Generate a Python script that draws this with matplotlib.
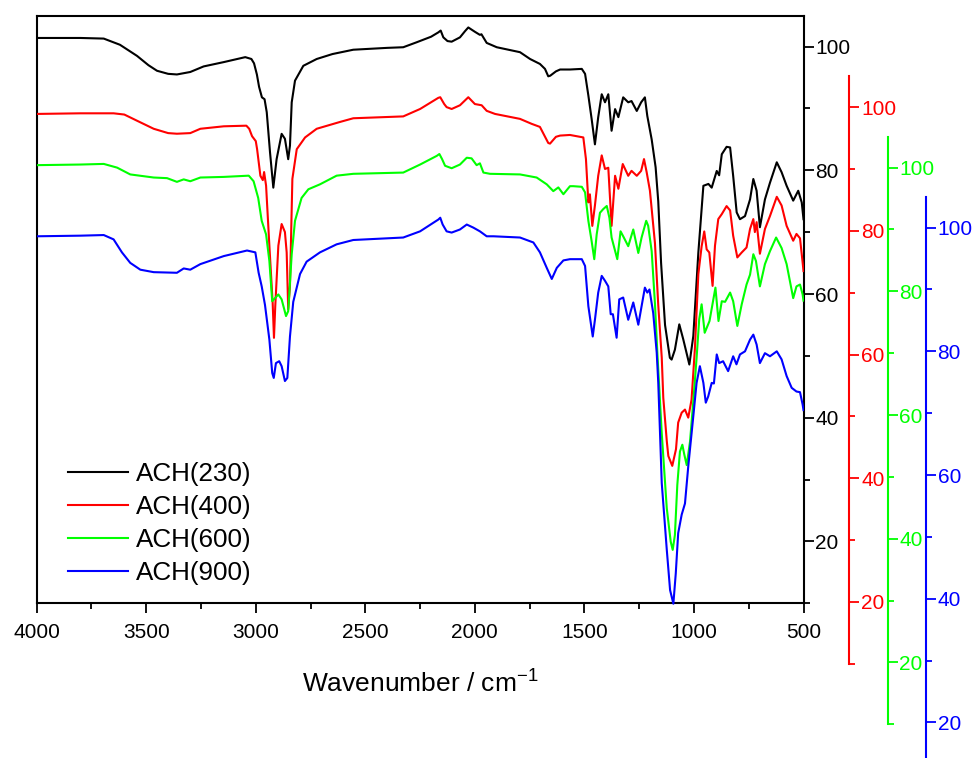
import matplotlib
matplotlib.use('Agg')
import matplotlib.pyplot as plt
from matplotlib.ticker import MultipleLocator

plt.rcParams['font.family'] = ['Liberation Sans', 'DejaVu Sans']
plt.rcParams['mathtext.fontset'] = 'custom'
plt.rcParams['mathtext.rm'] = 'Liberation Sans'
plt.rcParams['mathtext.it'] = 'Liberation Sans'

# spectra: wavenumber (cm-1) and transmittance for each sample
wn_230 = [4000, 3800, 3694, 3620, 3542, 3490, 3451, 3400, 3360, 3299, 3238, 3146, 3048, 3020, 3008,
          2995, 2985, 2972, 2960, 2950, 2935, 2920, 2905, 2882, 2867, 2852, 2844, 2836, 2821, 2783,
          2722, 2650, 2555, 2400, 2327, 2266, 2200, 2167, 2156, 2144, 2125, 2106, 2068, 2045, 2030,
          2000, 1977, 1970, 1946, 1900, 1794, 1748, 1703, 1680, 1665, 1656, 1630, 1611, 1566, 1512,
          1497, 1482, 1467, 1452, 1437, 1421, 1406, 1391, 1376, 1360, 1345, 1323, 1300, 1285, 1261,
          1241, 1224, 1213, 1193, 1175, 1163, 1150, 1132, 1110, 1102, 1087, 1067, 1049, 1021, 1003,
          980, 957, 934, 919, 896, 885, 873, 851, 835, 821, 805, 790, 767, 744, 729,
          714, 699, 676, 653, 622, 600, 577, 547, 524, 508, 500]
t_230 = [101.4, 101.4, 101.3, 100.3, 98.5, 97.0, 96.1, 95.6, 95.5, 95.9, 96.8, 97.5, 98.3, 98.0, 97.3,
         95.5, 93.5, 91.8, 91.5, 89.4, 82.9, 77.2, 81.8, 85.9, 85.1, 81.8, 84.0, 91.0, 94.5, 96.9,
         98.0, 98.8, 99.5, 99.8, 99.9, 100.7, 101.6, 102.3, 102.6, 101.5, 100.9, 100.8, 101.5, 102.5, 103.1,
         102.4, 101.9, 102.0, 100.6, 99.9, 99.1, 98.0, 97.2, 96.4, 95.2, 95.3, 96.0, 96.3, 96.3, 96.4,
         95.6, 92.1, 88.3, 84.2, 88.6, 92.3, 91.0, 92.3, 86.4, 89.9, 88.6, 91.8, 91.0, 91.2, 89.6,
         91.0, 91.8, 88.8, 85.0, 80.5, 75.0, 65.0, 55.0, 49.7, 49.4, 51.0, 55.1, 52.7, 48.6, 53.2,
         66.7, 77.5, 77.8, 77.2, 79.9, 79.2, 82.6, 83.8, 83.7, 79.1, 73.2, 72.1, 72.6, 75.3, 78.6,
         76.7, 70.8, 75.3, 78.0, 81.3, 79.7, 77.5, 75.1, 76.7, 74.8, 72.1]

wn_400 = [4000, 3800, 3649, 3600, 3542, 3466, 3400, 3360, 3299, 3253, 3146, 3043, 3030, 3017, 3000,
          2994, 2979, 2968, 2962, 2953, 2938, 2923, 2917, 2911, 2897, 2882, 2867, 2859, 2852, 2844,
          2833, 2813, 2775, 2722, 2616, 2555, 2327, 2250, 2167, 2158, 2140, 2129, 2106, 2068, 2030,
          2000, 1969, 1946, 1908, 1794, 1741, 1703, 1665, 1657, 1630, 1611, 1566, 1505, 1493, 1482,
          1475, 1464, 1452, 1437, 1421, 1406, 1391, 1376, 1360, 1345, 1325, 1300, 1285, 1261, 1241,
          1228, 1216, 1201, 1178, 1163, 1147, 1140, 1124, 1117, 1099, 1082, 1072, 1056, 1041, 1026,
          1011, 996, 980, 965, 953, 942, 930, 915, 904, 889, 873, 851, 835, 821, 802,
          782, 760, 744, 729, 722, 714, 699, 676, 653, 622, 600, 577, 547, 532, 516,
          504, 500]
t_400 = [98.9, 99.0, 99.0, 98.8, 97.8, 96.5, 95.8, 95.7, 95.8, 96.5, 96.9, 97.0, 96.5, 95.3, 94.5,
         93.2, 88.9, 88.2, 89.5, 87.3, 77.6, 68.4, 62.7, 67.9, 77.6, 81.1, 79.8, 76.5, 67.3, 71.1,
         88.4, 93.2, 95.1, 96.5, 97.6, 98.2, 98.5, 99.7, 101.5, 101.6, 100.5, 100.0, 99.7, 100.3, 101.6,
         100.5, 100.3, 99.4, 98.9, 98.1, 97.3, 96.8, 94.2, 94.1, 95.2, 95.4, 95.5, 95.1, 91.6, 84.6,
         85.9, 80.8, 84.1, 88.9, 92.2, 90.0, 90.2, 80.8, 88.9, 86.8, 90.8, 88.9, 89.7, 88.9, 89.7,
         91.6, 89.5, 86.5, 78.0, 68.0, 59.5, 53.0, 46.0, 43.6, 42.0, 44.7, 49.0, 50.6, 51.1, 49.8,
         52.7, 60.8, 73.0, 77.5, 79.9, 77.0, 76.5, 71.1, 77.6, 81.9, 82.7, 84.0, 83.3, 79.2, 75.7,
         76.5, 77.3, 80.3, 81.9, 79.8, 81.4, 76.3, 80.3, 82.4, 85.5, 84.1, 80.8, 78.4, 79.5, 78.8,
         74.9, 73.5]

wn_600 = [4000, 3800, 3694, 3633, 3573, 3466, 3405, 3360, 3329, 3299, 3253, 3146, 3032, 3010, 2989,
          2973, 2953, 2938, 2925, 2912, 2897, 2882, 2862, 2852, 2836, 2821, 2791, 2760, 2707, 2631,
          2555, 2327, 2250, 2174, 2162, 2150, 2136, 2106, 2068, 2037, 2015, 1992, 1977, 1961, 1931,
          1794, 1718, 1672, 1642, 1619, 1596, 1566, 1551, 1512, 1497, 1482, 1467, 1455, 1444, 1429,
          1414, 1398, 1386, 1376, 1350, 1335, 1323, 1300, 1277, 1254, 1239, 1218, 1209, 1193, 1178,
          1167, 1147, 1124, 1106, 1097, 1087, 1076, 1064, 1053, 1044, 1033, 1018, 1003, 988, 976,
          965, 951, 929, 902, 888, 873, 858, 835, 821, 802, 782, 760, 744, 729, 717,
          699, 676, 653, 625, 600, 577, 547, 532, 516, 504, 500]
t_600 = [100.4, 100.5, 100.6, 100.0, 98.9, 98.4, 98.3, 97.7, 98.1, 97.8, 98.4, 98.5, 98.7, 97.8, 95.1,
         91.4, 89.2, 84.9, 78.4, 78.9, 79.5, 78.7, 76.0, 76.8, 86.0, 91.4, 95.1, 96.5, 97.3, 98.7,
         99.0, 99.2, 100.5, 101.9, 102.2, 101.4, 100.3, 99.9, 100.5, 101.6, 101.5, 100.4, 100.7, 99.2, 99.0,
         98.9, 98.4, 97.3, 96.2, 96.8, 95.7, 97.0, 97.0, 96.9, 96.0, 91.4, 88.1, 85.2, 89.2, 92.7,
         93.3, 93.8, 91.9, 88.7, 85.2, 89.7, 88.9, 87.3, 90.0, 86.2, 88.7, 91.4, 90.6, 86.5, 78.0,
         70.0, 57.0, 44.9, 39.5, 38.2, 40.6, 48.7, 54.1, 55.2, 53.6, 51.9, 55.7, 62.2, 69.2, 75.5,
         77.9, 73.3, 75.2, 80.6, 75.2, 78.4, 78.3, 79.8, 78.4, 74.4, 77.9, 81.1, 82.7, 86.0, 84.9,
         80.8, 84.4, 86.5, 88.7, 87.0, 84.4, 78.9, 80.8, 81.1, 79.5, 78.5]

wn_900 = [4000, 3800, 3694, 3649, 3611, 3573, 3527, 3466, 3360, 3329, 3299, 3253, 3146, 3040, 3002,
          2987, 2973, 2958, 2938, 2925, 2918, 2908, 2893, 2882, 2867, 2856, 2844, 2829, 2798, 2768,
          2707, 2631, 2555, 2327, 2250, 2189, 2167, 2158, 2147, 2129, 2106, 2068, 2037, 2007, 1977,
          1946, 1915, 1794, 1733, 1703, 1672, 1649, 1626, 1596, 1566, 1512, 1497, 1482, 1462, 1452,
          1437, 1421, 1406, 1391, 1380, 1370, 1353, 1341, 1323, 1300, 1277, 1254, 1239, 1224, 1213,
          1203, 1186, 1170, 1163, 1147, 1124, 1109, 1094, 1083, 1072, 1056, 1041, 1026, 1003, 988,
          973, 957, 946, 935, 919, 909, 896, 885, 867, 844, 821, 806, 790, 767, 744,
          729, 714, 699, 676, 653, 622, 600, 577, 554, 532, 516, 504, 500]
t_900 = [98.6, 98.7, 98.8, 98.1, 96.0, 94.3, 93.2, 92.8, 92.7, 93.4, 93.2, 94.1, 95.4, 96.3, 96.0,
         92.7, 90.5, 87.5, 81.9, 76.5, 75.7, 78.1, 78.4, 77.6, 75.2, 75.7, 82.4, 88.0, 92.5, 94.5,
         96.0, 97.3, 98.0, 98.4, 99.4, 100.8, 101.3, 101.6, 100.5, 99.4, 99.2, 99.7, 100.5, 100.0, 99.4,
         98.6, 98.6, 98.4, 97.6, 96.0, 93.5, 91.7, 93.5, 94.7, 94.9, 94.9, 93.8, 87.3, 82.4, 85.1,
         89.5, 92.2, 91.4, 90.5, 86.0, 86.0, 82.2, 88.4, 88.7, 85.1, 87.9, 84.3, 87.3, 90.3, 89.5,
         90.0, 86.2, 79.8, 75.0, 58.7, 47.9, 41.4, 39.2, 44.1, 50.6, 53.6, 55.4, 61.4, 69.5, 74.9,
         77.6, 74.9, 71.7, 72.7, 74.9, 74.8, 79.5, 78.1, 78.4, 76.8, 79.2, 77.9, 79.5, 80.0, 81.9,
         82.7, 81.1, 78.1, 79.7, 79.2, 80.0, 78.7, 76.0, 74.1, 73.5, 73.4, 71.4, 70.5]

labels = ['ACH(230)', 'ACH(400)', 'ACH(600)', 'ACH(900)']
colors = ['black', '#ff0000', '#00ff00', '#0000ff']

W, H = 974, 758
fig = plt.figure(figsize=(W / 100, H / 100), dpi=100)

left, right, top, bottom = 36.7, 803.5, 15.7, 603.3
rect = [left / W, 1 - bottom / H, (right - left) / W, (bottom - top) / H]
# vertical shift (px) and right spine offset (px) of each extra layer
shifts = [0, 60.5, 121, 181]
outs = [0, 45.8, 84, 122.2]

series = [(wn_230, t_230), (wn_400, t_400), (wn_600, t_600), (wn_900, t_900)]
handles = []
axes = []
for i, (wn, t) in enumerate(series):
    r = [rect[0], rect[1] - shifts[i] / H, rect[2], rect[3]]
    a = fig.add_axes(r)
    a.patch.set_visible(False)
    line, = a.plot(wn, t, color=colors[i], lw=1.5, label=labels[i])
    handles.append(line)
    a.set_xlim(4000, 500)
    a.set_ylim(10, 105)
    a.yaxis.tick_right()
    a.yaxis.set_major_locator(MultipleLocator(20))
    a.yaxis.set_minor_locator(MultipleLocator(10))
    a.tick_params(axis='y', which='both', colors=colors[i], direction='out', width=1.3,
                  labelsize=15, pad=1)
    a.tick_params(axis='y', which='major', length=7.5)
    a.tick_params(axis='y', which='minor', length=4.5)
    a.spines['right'].set_color(colors[i])
    a.spines['right'].set_linewidth(1.5)
    if i == 0:
        for s in ['left', 'top', 'bottom']:
            a.spines[s].set_linewidth(1.5)
        a.xaxis.set_major_locator(MultipleLocator(500))
        a.xaxis.set_minor_locator(MultipleLocator(250))
        a.tick_params(axis='x', which='both', direction='out', width=1.3, labelsize=15, pad=7,
                      top=False)
        a.tick_params(axis='x', which='major', length=7.5)
        a.tick_params(axis='x', which='minor', length=4.5)
        a.set_xlabel('Wavenumber / cm$^{-1}$', fontsize=19, labelpad=20)
    else:
        for s in ['left', 'top', 'bottom']:
            a.spines[s].set_visible(False)
        a.spines['right'].set_position(('outward', outs[i] * 0.72))
        a.set_xticks([])
    axes.append(a)

axes[-1].legend(handles=handles, loc='upper left', frameon=False, fontsize=18.7,
                bbox_to_anchor=(0.0408, 0.24 + shifts[-1] / (bottom - top)),
                borderaxespad=0, borderpad=0, handlelength=2.3, handletextpad=0.3,
                labelspacing=0.34)

fig.savefig('out.png', dpi=100)
